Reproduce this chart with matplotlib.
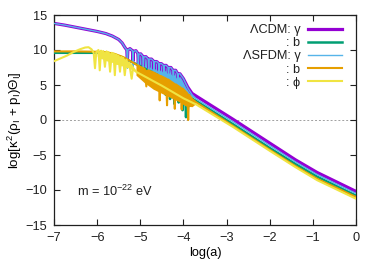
import matplotlib
matplotlib.use("Agg")
import matplotlib.pyplot as plt

# ---- data (log a, log[k^2 (rho+p) Theta]) ----
cdm_g_x = [-7.0, -6.75, -6.5, -6.25, -6.0, -5.8, -5.65, -5.5, -5.42, -5.36,
           -5.312, -5.30, -5.288, -5.24, -5.182, -5.17, -5.158, -5.10,
           -5.057, -5.045, -5.033, -4.99, -4.942, -4.93, -4.918, -4.87,
           -4.817, -4.805, -4.793, -4.74, -4.692, -4.68, -4.668, -4.62,
           -4.577, -4.565, -4.553, -4.51, -4.467, -4.455, -4.443, -4.40,
           -4.357, -4.345, -4.333, -4.29, -4.247, -4.235, -4.223, -4.18,
           -4.142, -4.13, -4.118, -4.08, -4.0, -3.9, -3.8, -3.7,
           -2.85, -2.0, -1.4, -0.9, 0.0]
cdm_g_y = [13.8, 13.55, 13.25, 12.95, 12.65, 12.35, 12.0, 11.5, 11.0, 10.4,
           10.0, 8.3, 10.0, 10.2, 9.9, 8.4, 9.8, 9.9,
           9.5, 8.1, 9.4, 9.45, 9.1, 7.7, 9.0, 9.05,
           8.7, 7.5, 8.7, 8.7, 8.4, 7.3, 8.35, 8.35,
           8.1, 7.1, 8.05, 8.05, 7.8, 7.0, 7.8, 7.8,
           7.5, 6.8, 7.5, 7.5, 7.1, 6.5, 7.1, 7.1,
           6.7, 6.1, 6.6, 6.6, 5.9, 4.7, 3.8, 3.4,
           0.1, -3.3, -5.7, -7.5, -10.2]

cdm_b_x = [-7.0, -6.5, -6.0, -5.8, -5.6, -5.4, -5.2, -5.0, -4.95, -4.93, -4.91,
           -4.85, -4.78, -4.76, -4.74, -4.66, -4.64, -4.62, -4.54, -4.52, -4.50,
           -4.43, -4.41, -4.39, -4.33, -4.31, -4.29, -4.23, -4.21, -4.19,
           -4.13, -4.11, -4.09, -4.04, -4.02, -4.00, -3.96, -3.94, -3.92,
           -3.88, -3.86, -3.84, -3.7, -2.85, -2.0, -1.4, -0.9, 0.0]
cdm_b_y = [9.6, 9.6, 9.6, 9.55, 9.35, 8.9, 8.3, 7.7, 7.5, 6.6, 7.4,
           7.2, 7.0, 5.6, 6.9, 6.6, 5.0, 6.5, 6.2, 4.2, 6.1,
           5.8, 3.6, 5.7, 5.4, 3.0, 5.3, 5.0, 2.3, 4.9,
           4.6, 2.5, 4.5, 4.2, 1.4, 4.1, 3.9, 0.4, 3.7,
           3.4, 2.0, 3.2, 2.7, -0.6, -4.0, -6.3, -8.1, -10.8]

sfdm_g_x = cdm_g_x
sfdm_g_y = [13.8, 13.55, 13.25, 12.95, 12.65, 12.35, 12.0, 11.5, 11.0, 10.4,
            10.0, 7.4, 10.0, 10.2, 9.9, 7.6, 9.8, 9.9,
            9.5, 7.3, 9.4, 9.45, 9.1, 7.0, 9.0, 9.05,
            8.7, 6.7, 8.7, 8.7, 8.4, 6.4, 8.35, 8.35,
            8.1, 6.1, 8.05, 8.05, 7.8, 5.9, 7.8, 7.8,
            7.5, 5.4, 7.5, 7.5, 7.1, 5.0, 7.1, 7.1,
            6.7, 4.6, 6.6, 6.6, 5.9, 4.6, 3.6, 3.0,
            -0.25, -3.65, -6.0, -7.8, -10.5]
# dense acoustic oscillations of the SFDM photons (band they fill)
sfdm_g_band_x = [-5.05, -4.9, -4.75, -4.6, -4.45, -4.3, -4.15, -4.0, -3.9, -3.8, -3.72]
sfdm_g_band_lo = [7.5, 7.1, 6.7, 6.3, 5.9, 5.4, 4.9, 4.2, 3.7, 3.3, 3.1]
sfdm_g_band_hi = [9.3, 8.95, 8.6, 8.3, 7.9, 7.5, 7.0, 5.9, 4.7, 3.8, 3.3]

sfdm_b_x = [-7.0, -6.5, -6.0, -5.8, -5.6, -5.4, -5.2, -5.0, -4.9, -4.86, -4.82,
            -4.7, -4.57, -4.55, -4.53, -4.4, -4.38, -4.36, -4.22, -4.2, -4.18,
            -4.06, -4.04, -4.02, -3.91, -3.89, -3.87, -3.8, -3.7,
            -2.85, -2.0, -1.4, -0.9, 0.0]
sfdm_b_y = [9.8, 9.8, 9.75, 9.7, 9.45, 9.0, 8.3, 7.6, 7.3, 4.8, 7.1,
            6.8, 6.4, 2.8, 6.3, 5.9, 2.1, 5.8, 5.2, 1.6, 5.1,
            4.6, 1.5, 4.5, 3.8, 0.0, 3.6, 3.0, 2.5,
            -0.85, -4.25, -6.6, -8.4, -11.0]
sfdm_b_band_x = [-5.1, -4.9, -4.7, -4.5, -4.3, -4.1, -3.95, -3.8, -3.72]
sfdm_b_band_hi = [7.9, 7.3, 6.8, 6.2, 5.5, 4.7, 4.0, 3.0, 2.6]
sfdm_b_band_lo = [6.4, 5.3, 4.4, 3.8, 3.2, 2.6, 2.0, 1.9, 2.3]

phi_x = [-7.0, -6.85, -6.7, -6.55, -6.4, -6.28, -6.2, -6.13, -6.08, -6.05, -6.02,
         -5.97, -5.94, -5.91, -5.88, -5.86, -5.82, -5.78, -5.76, -5.74, -5.70,
         -5.66, -5.64, -5.62, -5.59, -5.56, -5.53, -5.51, -5.47, -5.44, -5.42,
         -5.40, -5.36, -5.32, -5.29, -5.26, -5.20, -5.17, -5.1, -4.5, -4.0,
         -3.7, -2.85, -2.0, -1.4, -0.9, 0.0]
phi_y = [8.4, 8.8, 9.2, 9.7, 10.1, 10.35, 10.4, 10.1, 9.6, 7.4, 9.7,
         10.0, 7.1, 9.9, 8.8, 9.85, 7.6, 9.8, 8.5, 9.7, 6.9,
         9.6, 8.3, 9.5, 6.4, 9.4, 8.0, 9.2, 6.9, 9.0, 7.8,
         8.9, 6.4, 8.6, 7.5, 8.2, 5.9, 7.3, 6.9, 4.9, 3.1,
         2.2, -1.0, -4.4, -6.75, -8.6, -11.25]
# dense scalar-field oscillations (band they fill)
phi_band_x = [-6.0, -5.8, -5.6, -5.4, -5.2, -5.1]
phi_band_hi = [9.9, 9.75, 9.45, 8.95, 8.0, 7.1]
phi_band_lo = [9.1, 8.8, 8.4, 7.9, 7.2, 6.9]

x_ticks = [-7, -6, -5, -4, -3, -2, -1, 0]
y_ticks = [-15, -10, -5, 0, 5, 10, 15]

labels = ["\u039bCDM: \u03b3", ": b", "\u039bSFDM: \u03b3", ": b", ": \u03d5"]
colors = ["#9400d3", "#009e73", "#56b4e9", "#e69f00", "#f0e442"]

plt.rcParams.update({
    "font.family": ["Liberation Sans", "DejaVu Sans"],
    "font.size": 9.2,
    "mathtext.fontset": "custom",
    "mathtext.rm": "Liberation Sans",
    "mathtext.it": "Liberation Sans",
    "mathtext.bf": "Liberation Sans:bold",
    "axes.edgecolor": "#202020",
    "text.color": "#202020",
    "xtick.color": "#202020",
    "ytick.color": "#202020",
})

fig = plt.figure(figsize=(3.79, 2.66), dpi=100)
ax = fig.add_axes([54 / 379, 41 / 266, 302 / 379, 210 / 266])

ax.axhline(0, color="#a0a0a0", lw=0.7, ls=(0, (2, 2)), zorder=1)

ax.plot(cdm_g_x, cdm_g_y, color=colors[0], lw=2.3, label=labels[0], zorder=2)
ax.plot(cdm_b_x, cdm_b_y, color=colors[1], lw=1.8, label=labels[1], zorder=3)
ax.fill_between(sfdm_g_band_x, sfdm_g_band_lo, sfdm_g_band_hi,
                color=colors[2], lw=0, zorder=1.9)
ax.plot(sfdm_g_x, sfdm_g_y, color=colors[2], lw=1.0, label=labels[2], zorder=4)
ax.fill_between(sfdm_b_band_x, sfdm_b_band_lo, sfdm_b_band_hi,
                color=colors[3], lw=0, zorder=4.5)
ax.plot(sfdm_b_x, sfdm_b_y, color=colors[3], lw=1.5, label=labels[3], zorder=5)
ax.fill_between(phi_band_x, phi_band_lo, phi_band_hi,
                color=colors[4], lw=0, zorder=5.5)
ax.plot(phi_x, phi_y, color=colors[4], lw=1.5, label=labels[4], zorder=6)

ax.set_xlim(-7, 0)
ax.set_ylim(-15, 15)
ax.set_xticks(x_ticks)
ax.set_yticks(y_ticks)
ax.tick_params(direction="in", length=4, width=0.8, top=True, right=True, pad=5)
for s in ax.spines.values():
    s.set_linewidth(0.9)

ax.set_xlabel("log(a)", labelpad=2)
ax.set_ylabel(r"log[$\kappa^2$($\rho_I$ + $p_I$)$\Theta_I$]", labelpad=1, fontsize=9.6)
ax.text(-6.47, -10.2, r"m = 10$^{-22}$ eV", va="center", ha="left")

leg = ax.legend(loc="upper right", bbox_to_anchor=(0.952, 0.955),
                frameon=False, markerfirst=False, borderpad=0, borderaxespad=0,
                handlelength=2.66, handletextpad=0.55, labelspacing=0.08)

fig.savefig("out.png", dpi=100)
